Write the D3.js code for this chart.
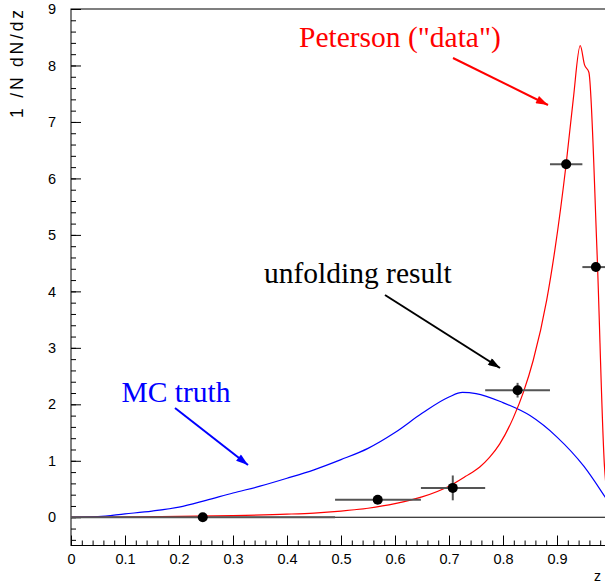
<!DOCTYPE html>
<html>
<head>
<meta charset="utf-8">
<script src="https://cdn.jsdelivr.net/npm/d3@7"></script>
<style>
  body { margin: 0; background: #fff; }
  svg { display: block; }
  .axis text { font-family: "Liberation Sans", Arial, sans-serif; font-size: 14.5px; fill: #000; }
  .axis line { stroke: #000; }
  .axis path { display: none; }
</style>
</head>
<body>
<div id="chart"></div>
<script>
// Peterson ("data") curve
const petersonZ = [0, 0.1, 0.2, 0.3, 0.4, 0.45, 0.5, 0.55, 0.6, 0.65, 0.7, 0.73, 0.757, 0.775, 0.794, 0.819, 0.838, 0.856, 0.881, 0.896, 0.917, 0.93, 0.943, 0.951, 0.959, 0.974, 0.988, 1.0];
const petersonY = [0, 0.005, 0.015, 0.03, 0.055, 0.075, 0.11, 0.16, 0.24, 0.36, 0.55, 0.72, 0.89, 1.06, 1.3, 1.76, 2.22, 2.78, 3.85, 4.73, 6.26, 7.39, 8.35, 8.01, 7.88, 4.73, 0.89, 0];

// MC truth curve
const truthZ = [0, 0.05, 0.1, 0.15, 0.2, 0.25, 0.3, 0.35, 0.4, 0.45, 0.5, 0.55, 0.6, 0.65, 0.7, 0.725, 0.75, 0.8, 0.85, 0.9, 0.95, 0.989, 1.0];
const truthY = [0, 0.01, 0.06, 0.11, 0.18, 0.3, 0.43, 0.55, 0.69, 0.84, 1.02, 1.22, 1.5, 1.84, 2.13, 2.21, 2.19, 2.03, 1.8, 1.42, 0.9, 0.36, 0.2];

// unfolding result: bin edges, values, errors
const binLo = [0, 0.489, 0.648, 0.767, 0.887, 0.947];
const binHi = [0.489, 0.648, 0.767, 0.887, 0.947, 1.0];
const ptZ = [0.244, 0.568, 0.707, 0.827, 0.917, 0.972];
const ptY = [0.0, 0.31, 0.52, 2.25, 6.25, 4.43];
const ptErr = [0.03, 0.05, 0.22, 0.13, 0.08, 0.08];

const yMajor = [0, 1, 2, 3, 4, 5, 6, 7, 8, 9];
const xMajor = [0, 0.1, 0.2, 0.3, 0.4, 0.5, 0.6, 0.7, 0.8, 0.9];

const W = 605, H = 586;
const svg = d3.select("#chart").append("svg")
  .attr("width", W).attr("height", H);

const x = d3.scaleLinear().domain([0, 1]).range([71, 611]);
const y = d3.scaleLinear().domain([-0.5, 9]).range([545.5, 9]);

// frame
svg.append("rect")
  .attr("x", x(0)).attr("y", y(9))
  .attr("width", x(1) - x(0)).attr("height", y(-0.5) - y(9))
  .attr("fill", "none").attr("stroke", "#000").attr("stroke-width", 1);

// x axis (ticks inward)
svg.append("g").attr("class", "axis")
  .attr("transform", `translate(0,${y(-0.5)})`)
  .call(d3.axisBottom(x).tickValues(d3.range(0, 1.001, 0.02)).tickSize(-5).tickSizeOuter(0).tickFormat(""));
svg.append("g").attr("class", "axis")
  .attr("transform", `translate(0,${y(-0.5)})`)
  .call(d3.axisBottom(x).tickValues(xMajor).tickSize(-10).tickSizeOuter(0).tickPadding(8).tickFormat(d3.format("")));

// y axis (ticks inward)
svg.append("g").attr("class", "axis")
  .attr("transform", `translate(${x(0)},0)`)
  .call(d3.axisLeft(y).tickValues(d3.range(-0.4, 9.001, 0.2)).tickSize(-5).tickSizeOuter(0).tickFormat(""));
svg.append("g").attr("class", "axis")
  .attr("transform", `translate(${x(0)},0)`)
  .call(d3.axisLeft(y).tickValues(yMajor).tickSize(-10).tickSizeOuter(0).tickPadding(15).tickFormat(d3.format("d")));

// axis titles
svg.append("text")
  .attr("transform", "translate(23,10) rotate(-90)")
  .attr("text-anchor", "end")
  .attr("textLength", 108).attr("lengthAdjust", "spacing")
  .style("font-family", "Liberation Sans, Arial, sans-serif")
  .style("font-size", "17.5px")
  .text("1 /N dN/dz");

svg.append("text")
  .attr("x", 601).attr("y", 581)
  .attr("text-anchor", "end")
  .style("font-family", "Liberation Sans, Arial, sans-serif")
  .style("font-size", "14px")
  .text("z");

// zero line
svg.append("line")
  .attr("x1", x(0)).attr("x2", x(1))
  .attr("y1", y(0)).attr("y2", y(0))
  .attr("stroke", "#000").attr("stroke-width", 1.2);

const line = d3.line().x(d => x(d[0])).y(d => y(d[1])).curve(d3.curveMonotoneX);

svg.append("path")
  .datum(truthZ.map((z, i) => [z, truthY[i]]))
  .attr("d", line)
  .attr("fill", "none").attr("stroke", "#0000ff").attr("stroke-width", 1.2);

svg.append("path")
  .datum(petersonZ.map((z, i) => [z, petersonY[i]]))
  .attr("d", line)
  .attr("fill", "none").attr("stroke", "#ff0000").attr("stroke-width", 1.2);

// error bars + points
const pts = ptZ.map((z, i) => ({z: z, v: ptY[i], lo: binLo[i], hi: binHi[i], e: ptErr[i]}));
const pg = svg.append("g");
pg.selectAll(".xerr").data(pts).enter().append("line")
  .attr("x1", d => x(d.lo)).attr("x2", d => x(d.hi))
  .attr("y1", d => y(d.v)).attr("y2", d => y(d.v))
  .attr("stroke", "#555").attr("stroke-width", 2);
pg.selectAll(".yerr").data(pts).enter().append("line")
  .attr("x1", d => x(d.z)).attr("x2", d => x(d.z))
  .attr("y1", d => y(d.v - d.e)).attr("y2", d => y(d.v + d.e))
  .attr("stroke", "#555").attr("stroke-width", 2);
pg.selectAll("circle").data(pts).enter().append("circle")
  .attr("cx", d => x(d.z)).attr("cy", d => y(d.v)).attr("r", 5)
  .attr("fill", "#000");

// annotations
const defs = svg.append("defs");
function arrowMarker(id, color) {
  defs.append("marker")
    .attr("id", id).attr("viewBox", "0 0 12 8")
    .attr("refX", 12).attr("refY", 4)
    .attr("markerWidth", 13).attr("markerHeight", 8)
    .attr("markerUnits", "userSpaceOnUse")
    .attr("orient", "auto")
    .append("path").attr("d", "M0,0 L12,4 L0,8 Z").attr("fill", color);
}
arrowMarker("arR", "#ff0000");
arrowMarker("arK", "#000000");
arrowMarker("arB", "#0000ff");

const notes = [
  {t: 'Peterson ("data")', tx: 299, ty: 46.7, c: "#ff0000", m: "arR", a: [453, 58, 548, 105]},
  {t: "unfolding result", tx: 264, ty: 283.3, c: "#000000", m: "arK", a: [385, 295, 500, 368]},
  {t: "MC truth", tx: 121.5, ty: 402.3, c: "#0000ff", m: "arB", a: [175, 408, 248, 465]}
];
notes.forEach(n => {
  svg.append("text")
    .attr("x", n.tx).attr("y", n.ty)
    .style("font-family", "Liberation Serif, Times New Roman, serif")
    .style("font-size", "29.5px")
    .attr("fill", n.c)
    .text(n.t);
  svg.append("line")
    .attr("x1", n.a[0]).attr("y1", n.a[1]).attr("x2", n.a[2]).attr("y2", n.a[3])
    .attr("stroke", n.c).attr("stroke-width", 2)
    .attr("marker-end", `url(#${n.m})`);
});
</script>
</body>
</html>
